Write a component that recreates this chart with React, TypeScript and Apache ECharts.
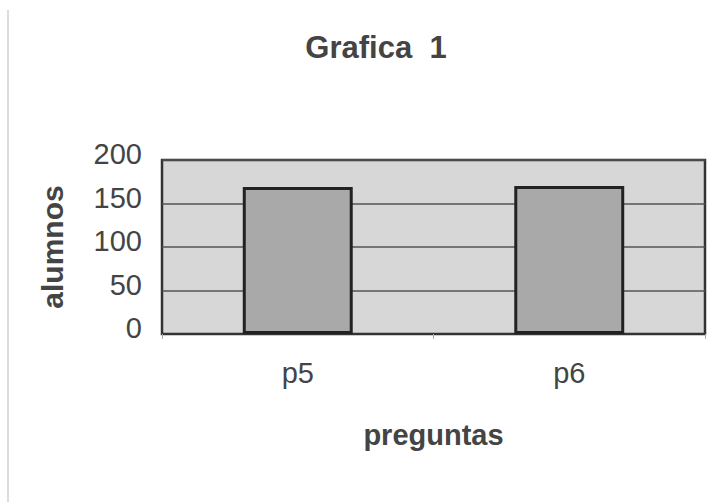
import React, { useEffect, useRef } from "react";
import * as echarts from "echarts";

const title = "Grafica  1";
const categories = ["p5", "p6"];
const values = [169, 170];
const yTicks = { min: 0, max: 200, interval: 50 };
const xName = "preguntas";
const yName = "alumnos";

export default function App() {
  const ref = useRef<HTMLDivElement>(null);
  useEffect(() => {
    if (!ref.current) return;
    const chart = echarts.init(ref.current, undefined, { renderer: "svg" });
    const font = "Liberation Sans, Arial, sans-serif";
    chart.setOption({
      animation: false,
      backgroundColor: "#ffffff",
      textStyle: { fontFamily: font },
      title: {
        text: title,
        left: 371,
        top: 27,
        textAlign: "center",
        textStyle: { fontFamily: font, fontSize: 31, fontWeight: "bold", color: "#444" },
      },
      graphic: [
        {
          type: "line",
          shape: { x1: 8, y1: 10, x2: 8, y2: 502 },
          style: { stroke: "#d0d0d0", lineWidth: 1.5 },
        },
      ],
      grid: {
        left: 162,
        right: 21,
        top: 160,
        bottom: 168,
        show: true,
        backgroundColor: "#d7d7d7",
        borderColor: "#333",
        borderWidth: 2.5,
      },
      xAxis: {
        type: "category",
        data: categories,
        name: xName,
        nameLocation: "middle",
        nameGap: 86,
        nameTextStyle: { fontFamily: font, fontSize: 29, fontWeight: "bold", color: "#444" },
        axisLine: { show: true, lineStyle: { color: "#333", width: 2 } },
        axisTick: { show: true, length: 5, lineStyle: { color: "#aaa" } },
        axisLabel: { fontFamily: font, fontSize: 29, color: "#444", margin: 24 },
      },
      yAxis: {
        type: "value",
        min: yTicks.min,
        max: yTicks.max,
        interval: yTicks.interval,
        name: yName,
        nameLocation: "middle",
        nameGap: 95,
        nameTextStyle: { fontFamily: font, fontSize: 30, fontWeight: "bold", color: "#444" },
        axisLine: { show: false },
        axisTick: { show: false },
        axisLabel: {
          fontFamily: font,
          fontSize: 29,
          color: "#444",
          margin: 20,
          verticalAlign: "bottom",
          lineHeight: 12,
        },
        splitLine: { show: true, lineStyle: { color: "#555", width: 1.5 } },
      },
      series: [
        {
          type: "bar",
          data: values,
          barWidth: "40.5%",
          itemStyle: { color: "#a9a9a9", borderColor: "#222", borderWidth: 3 },
        },
      ],
    });
    return () => chart.dispose();
  }, []);
  return (
    <div
      ref={ref}
      style={{ position: "fixed", left: 0, top: 0, width: 726, height: 502 }}
    />
  );
}
